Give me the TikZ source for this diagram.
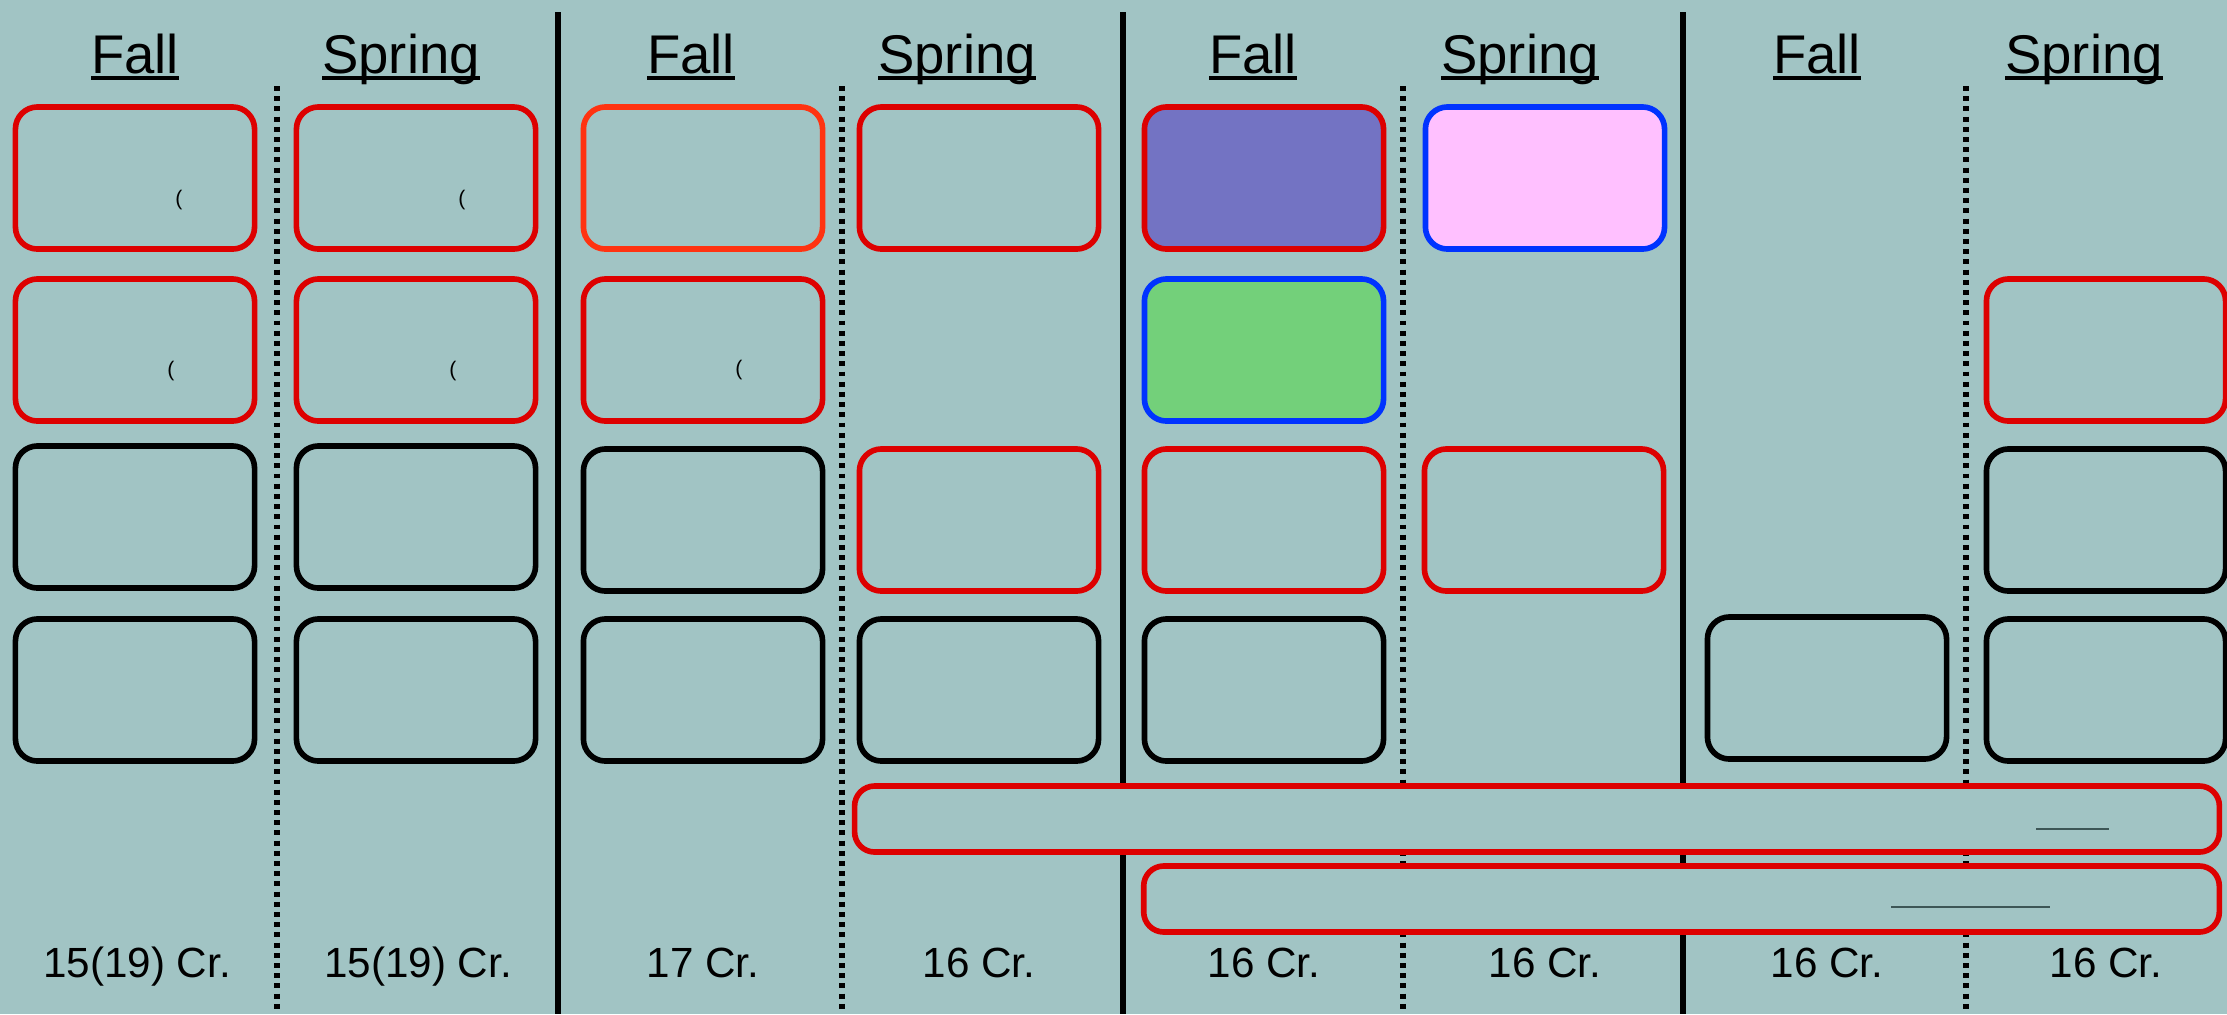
\documentclass[tikz,border=0pt]{standalone}
\usepackage{fontspec}
\setmainfont{Liberation Sans}
\usetikzlibrary{positioning}

\definecolor{slate}{HTML}{A1C4C4}
\definecolor{reqred}{HTML}{DD0000}
\definecolor{reqorange}{HTML}{FF3311}
\definecolor{reqblue}{HTML}{0033FF}
\definecolor{lavender}{HTML}{7373C3}
\definecolor{pinkfill}{HTML}{FFC0FF}
\definecolor{mint}{HTML}{73D07A}
\definecolor{blankline}{HTML}{3D5656}

\newsavebox\termbox
\newcommand\ulterm[1]{\sbox\termbox{#1}\rlap{\rule[-0.12em]{\wd\termbox}{0.06em}}\usebox\termbox}

\begin{document}
\begin{tikzpicture}[x=0.01cm,y=-0.01cm,
    course/.style={draw,line width=1.6pt,rounded corners=0.22cm,minimum width=2.39cm,minimum height=1.42cm,inner sep=0pt},
    elective/.style={draw=reqred,fill=slate,line width=1.6pt,rounded corners=0.2cm,minimum height=0.66cm,inner sep=0pt},
    term/.style={anchor=base,inner sep=0pt,font=\fontsize{15.5}{18}\selectfont},
    credits/.style={anchor=base,inner sep=0pt,font=\fontsize{12}{14}\selectfont},
    paren/.style={inner sep=0pt,font=\fontsize{6}{7}\selectfont}]
    \fill[slate] (0,0) rectangle (2227,1014);
    \useasboundingbox (0,0) rectangle (2227,1014);

    % dividers
    \foreach \x in {558,1123,1683} {
            \draw[line width=1.8pt] (\x,12) -- (\x,1014);
        }
    \foreach \x in {277,842,1403,1966} {
            \draw[line width=1.5pt,dash pattern=on 1.4pt off 1.5pt] (\x,86) -- (\x,1014);
        }

    % terms and credits
    \foreach \x/\lbl [count=\i] in {135/Fall,401/Spring,691/Fall,957/Spring,1253/Fall,1520/Spring,1817/Fall,2084/Spring} {
            \node[term] (term\i) at (\x,73) {\ulterm{\lbl}};
        }
    \foreach \x/\lbl [count=\i] in {137/{15(19) Cr.},418/{15(19) Cr.},703/{17 Cr.},979/{16 Cr.},1264/{16 Cr.},1545/{16 Cr.},1827/{16 Cr.},2106/{16 Cr.}} {
            \node[credits] (cr\i) at (\x,977) {\lbl};
        }

    % year 1
    \node[course,draw=reqred] (b11) at (135,178) {};
    \node[course,draw=reqred] (b12) at (135,350) {};
    \node[course] (b13) at (135,517) {};
    \node[course] (b14) at (135,690) {};
    \node[course,draw=reqred] (b21) at (416,178) {};
    \node[course,draw=reqred] (b22) at (416,350) {};
    \node[course] (b23) at (416,517) {};
    \node[course] (b24) at (416,690) {};
    % year 2
    \node[course,draw=reqorange] (b31) at (703,178) {};
    \node[course,draw=reqred] (b32) at (703,350) {};
    \node[course] (b33) at (703,520) {};
    \node[course] (b34) at (703,690) {};
    \node[course,draw=reqred] (b41) at (979,178) {};
    \node[course,draw=reqred] (b43) at (979,520) {};
    \node[course] (b44) at (979,690) {};
    % year 3
    \node[course,draw=reqred,fill=lavender] (b51) at (1264,178) {};
    \node[course,draw=reqblue,fill=mint] (b52) at (1264,350) {};
    \node[course,draw=reqred] (b53) at (1264,520) {};
    \node[course] (b54) at (1264,690) {};
    \node[course,draw=reqblue,fill=pinkfill] (b61) at (1545,178) {};
    \node[course,draw=reqred] (b63) at (1544,520) {};
    % year 4
    \node[course] (b74) at (1827,688) {};
    \node[course,draw=reqred] (b82) at (2106,350) {};
    \node[course] (b83) at (2106,520) {};
    \node[course] (b84) at (2106,690) {};

    \node[paren] (p11) at (179,200) {(};
    \node[paren] (p21) at (462,200) {(};
    \node[paren] (p12) at (171,371) {(};
    \node[paren] (p22) at (453,371) {(};
    \node[paren] (p32) at (739,370) {(};

    % electives
    \node[elective,minimum width=13.64cm] (el1) at (1537,819) {};
    \node[elective,minimum width=10.75cm] (el2) at (1681.5,899) {};
    \draw[blankline,line width=0.6pt] (2036,829) -- (2109,829);
    \draw[blankline,line width=0.6pt] (1891,907) -- (2050,907);
\end{tikzpicture}
\end{document}
